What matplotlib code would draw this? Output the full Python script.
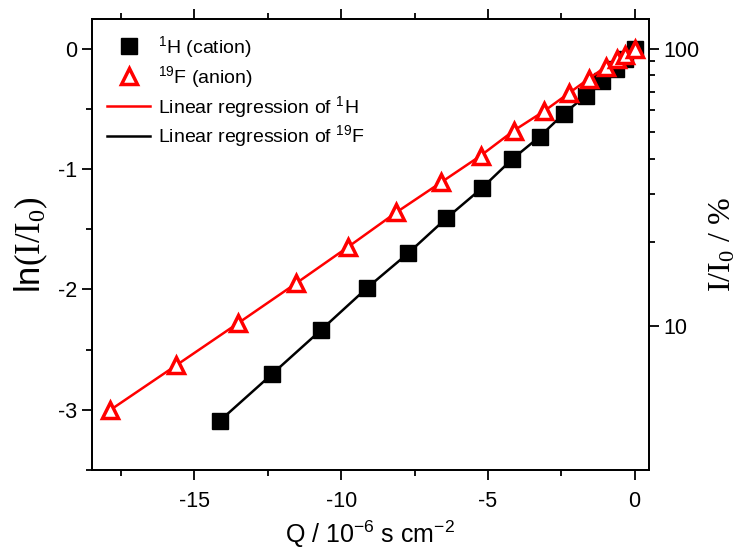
import numpy as np
import matplotlib
matplotlib.use("Agg")
import matplotlib.pyplot as plt
from matplotlib.lines import Line2D
from matplotlib.ticker import FixedLocator, MultipleLocator, NullFormatter

plt.rcParams["font.family"] = ["Liberation Sans", "DejaVu Sans"]
plt.rcParams["mathtext.fontset"] = "custom"
plt.rcParams["mathtext.rm"] = "Liberation Serif"
plt.rcParams["mathtext.it"] = "Liberation Serif:italic"
plt.rcParams["mathtext.default"] = "regular"
plt.rcParams["axes.unicode_minus"] = False

# 1H (cation) data
q_h = [-14.13, -12.34, -10.70, -9.13, -7.72, -6.42, -5.21, -4.18, -3.23,
       -2.41, -1.66, -1.12, -0.65, -0.31, 0.0]
ln_h = [-3.09, -2.70, -2.34, -1.99, -1.70, -1.41, -1.16, -0.92, -0.73,
        -0.54, -0.39, -0.27, -0.17, -0.09, 0.0]

# 19F (anion) data
q_f = [-17.86, -15.62, -13.51, -11.54, -9.78, -8.12, -6.59, -5.25, -4.11,
       -3.09, -2.24, -1.56, -0.98, -0.61, -0.31, 0.0]
ln_f = [-3.00, -2.63, -2.28, -1.95, -1.65, -1.36, -1.11, -0.89, -0.68,
        -0.52, -0.37, -0.25, -0.15, -0.09, -0.05, 0.0]

fig = plt.figure(figsize=(7.48, 5.53), dpi=100)
ax = fig.add_axes([0.1226, 0.15, 0.7454, 0.8165])

ax.plot(q_f, ln_f, color="red", lw=1.8, marker="^", ms=12, mfc="white",
        mec="red", mew=2.5, zorder=3)
ax.plot(q_h, ln_h, color="black", lw=1.8, marker="s", ms=11, mfc="black",
        mec="black", zorder=2)

ax.set_xlim(-18.5, 0.5)
ax.set_ylim(-3.5, 0.25)
ax.xaxis.set_major_locator(MultipleLocator(5))
ax.xaxis.set_minor_locator(MultipleLocator(2.5))
ax.yaxis.set_major_locator(MultipleLocator(1))
ax.yaxis.set_minor_locator(MultipleLocator(0.5))
ax.tick_params(which="both", direction="out", top=True, right=False,
               width=1.3, labelsize=15.5)
ax.tick_params(which="major", length=7)
ax.tick_params(which="minor", length=4)
ax.tick_params(axis="x", pad=8)
for s in ax.spines.values():
    s.set_linewidth(1.3)

ax.set_xlabel("Q / 10$^{-6}$ s cm$^{-2}$", fontsize=18, labelpad=5)
ax.set_ylabel(r"ln$\mathrm{(I/I_0)}$", fontsize=25, labelpad=6)

# right axis: I/I0 in %, log scale aligned with ln axis
ax2 = ax.twinx()
ax2.set_yscale("log")
ax2.set_ylim(100 * np.exp(-3.5), 100 * np.exp(0.25))
ax2.yaxis.set_major_locator(FixedLocator([10, 100]))
ax2.yaxis.set_minor_locator(FixedLocator([20, 30, 40, 50, 60, 70, 80, 90]))
ax2.yaxis.set_minor_formatter(NullFormatter())
ax2.set_yticklabels(["10", "100"])
ax2.tick_params(which="both", direction="out", width=1.3, labelsize=15.5)
ax2.tick_params(which="major", length=7)
ax2.tick_params(which="minor", length=4)
for s in ax2.spines.values():
    s.set_linewidth(1.3)
ax2.set_ylabel("I/I$_0$ / %", fontsize=23, fontfamily="Liberation Serif",
               labelpad=6)

handles = [
    Line2D([], [], ls="none", marker="s", ms=11, color="black"),
    Line2D([], [], ls="none", marker="^", ms=12, mfc="white", mec="red", mew=2.5),
    Line2D([], [], color="red", lw=1.8),
    Line2D([], [], color="black", lw=1.8),
]
labels = ["$^1$H (cation)", "$^{19}$F (anion)",
          "Linear regression of $^1$H", "Linear regression of $^{19}$F"]
ax.legend(handles, labels, loc="upper left", frameon=False, fontsize=14,
          handlelength=2.2, handletextpad=0.4, labelspacing=0.2,
          borderaxespad=0.4)

fig.savefig("out.png", dpi=100)
